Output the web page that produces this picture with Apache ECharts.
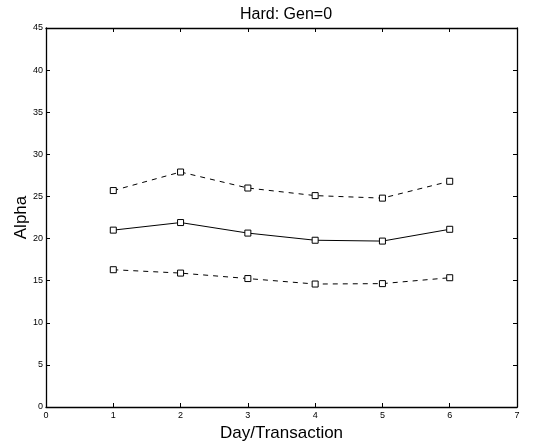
<!DOCTYPE html>
<html>
<head>
<meta charset="utf-8">
<script src="https://cdn.jsdelivr.net/npm/echarts@6/dist/echarts.min.js"></script>
<style>
  html, body { margin: 0; padding: 0; background: #fff; }
  #chart { width: 537px; height: 447px; }
</style>
</head>
<body>
<div id="chart"></div>
<script>
// Days along the x axis
const days = [1, 2, 3, 4, 5, 6];
// Alpha estimates: mean and upper/lower bands
const alphaUpper = [25.7, 27.9, 26.0, 25.1, 24.8, 26.8];
const alphaMean  = [21.0, 21.9, 20.65, 19.8, 19.7, 21.1];
const alphaLower = [16.3, 15.9, 15.25, 14.6, 14.65, 15.35];

const font = 'Liberation Sans, Arial, Helvetica, sans-serif';

function pairs(ys) { return days.map((d, i) => [d, ys[i]]); }

function lineSeries(name, ys, dashed) {
  return {
    name: name,
    type: 'line',
    data: pairs(ys),
    symbol: 'rect',
    symbolSize: 6,
    showSymbol: true,
    lineStyle: { color: '#000', width: 1, type: dashed ? [5, 5] : 'solid' },
    itemStyle: { color: '#fff', borderColor: '#000', borderWidth: 1 },
    emphasis: { disabled: true },
    animation: false,
    z: 3
  };
}

function axisCommon() {
  return {
    axisLine: { show: true, onZero: false, lineStyle: { color: '#000', width: 1.3 } },
    axisTick: { show: true, inside: true, length: 4, lineStyle: { color: '#000' } },
    splitLine: { show: false }
  };
}

const chart = echarts.init(document.getElementById('chart'), null, { renderer: 'canvas' });
chart.setOption({
  backgroundColor: '#fff',
  animation: false,
  // title centred over the plot area rather than the whole canvas
  title: {
    text: 'Hard: Gen=0',
    left: 235,
    top: 2,
    textStyle: { fontFamily: font, fontSize: 16, fontWeight: 'normal', color: '#000' }
  },
  grid: { left: 46, right: 20, top: 28, bottom: 39, containLabel: false },
  xAxis: [
    Object.assign({
      type: 'value', min: 0, max: 7, interval: 1, position: 'bottom',
      name: 'Day/Transaction', nameLocation: 'middle', nameGap: 18,
      nameMoveOverlap: false,
      nameTextStyle: { fontFamily: font, fontSize: 17, color: '#000' },
      axisLabel: { fontFamily: font, fontSize: 9, color: '#000', margin: 4 }
    }, axisCommon()),
    Object.assign({
      type: 'value', min: 0, max: 7, interval: 1, position: 'top',
      axisLabel: { show: false }
    }, axisCommon())
  ],
  yAxis: [
    Object.assign({
      type: 'value', min: 0, max: 45, interval: 5, position: 'left',
      name: 'Alpha', nameLocation: 'middle', nameGap: 16,
      nameMoveOverlap: false,
      nameTextStyle: { fontFamily: font, fontSize: 17, color: '#000' },
      axisLabel: { fontFamily: font, fontSize: 9, color: '#000', margin: 3 }
    }, axisCommon()),
    Object.assign({
      type: 'value', min: 0, max: 45, interval: 5, position: 'right',
      axisLabel: { show: false }
    }, axisCommon())
  ],
  series: [
    lineSeries('upper', alphaUpper, true),
    lineSeries('mean', alphaMean, false),
    lineSeries('lower', alphaLower, true)
  ]
});
</script>
</body>
</html>
